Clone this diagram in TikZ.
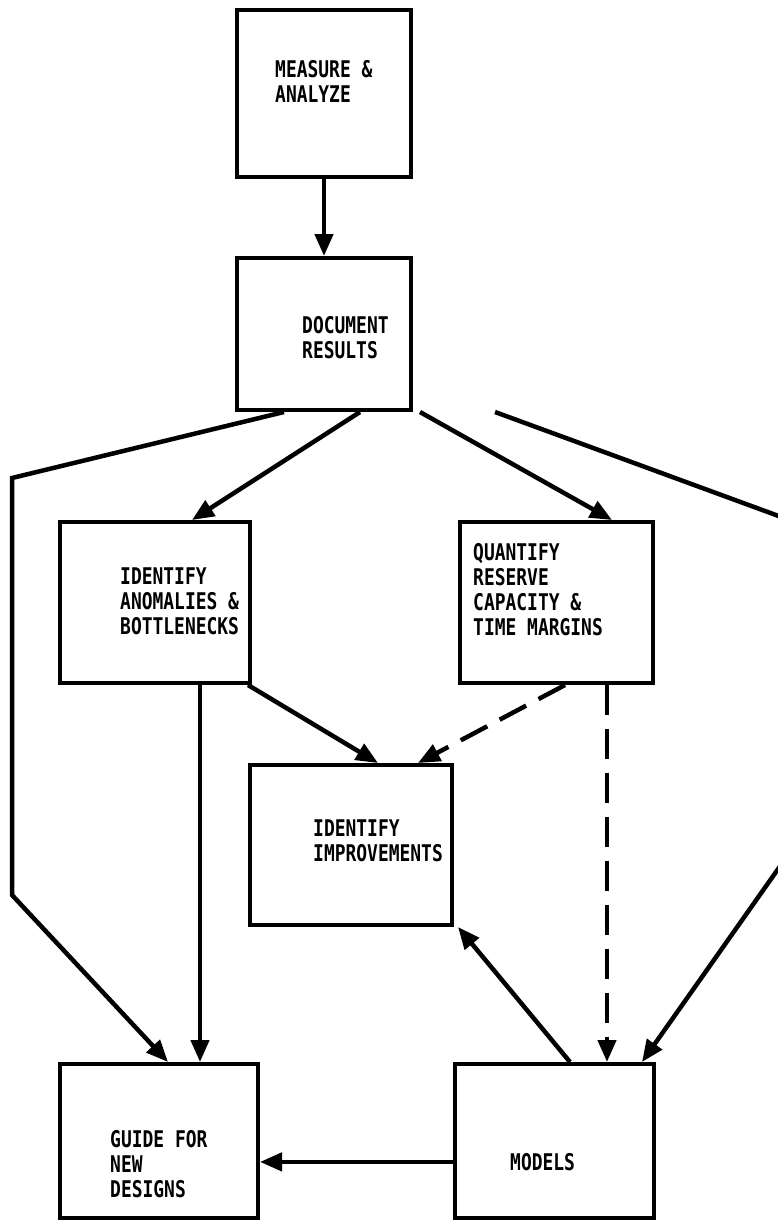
\documentclass[tikz,border=0pt]{standalone}
\usepackage{fontspec}
\newfontfamily\labfont[FakeStretch=0.78]{DejaVu Sans Mono Bold}
\usetikzlibrary{arrows.meta}
\tikzset{
  box/.style={draw, line width=4pt, inner sep=0pt, rectangle},
  lab/.style={anchor=north west, inner sep=0pt, align=left, font=\labfont\fontsize{23}{25}\selectfont},
  conn/.style={line width=4.5pt, line join=miter},
  arr/.style={conn, -{Triangle[length=22pt,width=18pt]}},
  dasharr/.style={arr, dash pattern=on 30pt off 14pt},
}
\begin{document}
\begin{tikzpicture}[x=1pt,y=-1pt]
\useasboundingbox (0,0) rectangle (778,1226);
\clip (0,0) rectangle (778,1226);
\fill[white] (0,0) rectangle (778,1226);

\node[box, minimum width=174pt, minimum height=167pt] (measure) at (324,93.5) {};
\node[box, minimum width=174pt, minimum height=152pt] (doc) at (324,334) {};
\node[box, minimum width=190pt, minimum height=161pt] (anom) at (155,602.5) {};
\node[box, minimum width=193pt, minimum height=161pt] (quant) at (556.5,602.5) {};
\node[box, minimum width=202pt, minimum height=160pt] (impr) at (351,845) {};
\node[box, minimum width=198pt, minimum height=154pt] (guide) at (159,1141) {};
\node[box, minimum width=199pt, minimum height=154pt] (models) at (554.5,1141) {};

\node[lab] (tmeasure) at (275,60) {MEASURE \&\\ANALYZE};
\node[lab] (tdoc) at (302,316) {DOCUMENT\\RESULTS};
\node[lab] (tanom) at (120,568) {IDENTIFY\\ANOMALIES \&\\BOTTLENECKS};
\node[lab] (tquant) at (473,543) {QUANTIFY\\RESERVE\\CAPACITY \&\\TIME MARGINS};
\node[lab] (timpr) at (313,820) {IDENTIFY\\IMPROVEMENTS};
\node[lab] (tguide) at (110,1130) {GUIDE FOR\\NEW\\DESIGNS};
\node[lab] (tmodels) at (510,1153) {MODELS};

\coordinate (L1) at (12,478);
\coordinate (L2) at (12,895);
\coordinate (R1) at (795,522);
\coordinate (R2) at (795,845);

\draw[arr] (measure.south) -- (doc.north);
\draw[arr] ([xshift=-40pt]doc.south) -- (L1) -- (L2) -- ([xshift=9pt]guide.north);
\draw[arr] ([xshift=36pt]doc.south) -- ([xshift=37pt]anom.north);
\draw[arr] ([xshift=96pt]doc.south) -- ([xshift=55.5pt]quant.north);
\draw[arr] ([xshift=171pt]doc.south) -- (R1) -- (R2) -- ([xshift=87.5pt]models.north);
\draw[arr] ([xshift=45pt]anom.south) -- ([xshift=41pt]guide.north);
\draw[arr] ([xshift=93pt]anom.south) -- ([xshift=27pt]impr.north);
\draw[dasharr] ([xshift=8.5pt]quant.south) -- ([xshift=67pt]impr.north);
\draw[dasharr] ([xshift=50.5pt]quant.south) -- ([xshift=52.5pt]models.north);
\draw[arr] ([xshift=15.5pt]models.north) -- ([xshift=107pt]impr.south);
\draw[arr] (models.west |- tmodels.center) -- (guide.east |- tmodels.center);
\end{tikzpicture}
\end{document}
